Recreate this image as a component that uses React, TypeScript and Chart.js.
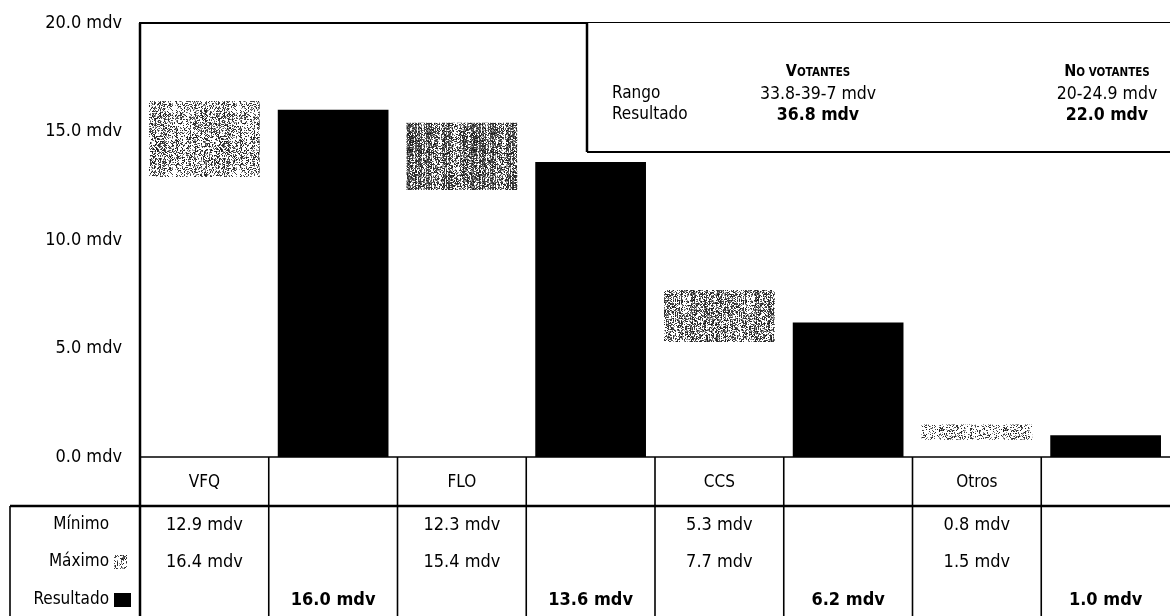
import { useEffect, useRef } from 'react';
import { Chart, registerables } from 'chart.js';

Chart.register(...registerables);

// Party ranges (minimum / maximum) and the final result, in mdv
const categories = ['VFQ', 'FLO', 'CCS', 'Otros'];
const minimo = [12.9, 12.3, 5.3, 0.8];
const maximo = [16.4, 15.4, 7.7, 1.5];
const resultado = [16.0, 13.6, 6.2, 1.0];

// Value axis
const yMin = 0;
const yMax = 20;
const yStep = 5;

// Row labels of the data table under the chart
const rowLabels = ['Mínimo', 'Máximo', 'Resultado'];

// Summary box (top right)
const summaryHeads = ['Votantes', 'No votantes'];
const summaryRowLabels = ['Rango', 'Resultado'];
const summaryRango = ['33.8-39-7 mdv', '20-24.9 mdv'];
const summaryResultado = ['36.8 mdv', '22.0 mdv'];

const W = 1170;
const H = 616;
const FONT = '"DejaVu Sans Condensed", "DejaVu Sans", sans-serif';
const fmt = (v: number) => v.toFixed(1) + ' mdv';

// Each party gets two columns: its range box, then its result bar
const columnLabels = categories.flatMap((c) => [c, c + ' resultado']);
const rangeData = columnLabels.map((_, i) =>
  i % 2 === 0 ? [minimo[i / 2], maximo[i / 2]] : null
);
const resultData = columnLabels.map((_, i) =>
  i % 2 === 1 ? resultado[(i - 1) / 2] : null
);

// Grain tone of each range box
const rangeTone = [0.42, 0.6, 0.5, 0.28];

function hash(a: number, b: number): number {
  let n = Math.imul(a, 374761393) + Math.imul(b, 668265263);
  n = Math.imul(n ^ (n >>> 13), 1274126177);
  n = n ^ (n >>> 16);
  return (n >>> 0) / 4294967295;
}

// Halftone-like grainy fill with vertical streaks
function grain(ctx: CanvasRenderingContext2D, density: number, seed: number) {
  const size = 64;
  const c = document.createElement('canvas');
  c.width = size;
  c.height = size;
  const g = c.getContext('2d')!;
  const img = g.createImageData(size, size);
  for (let x = 0; x < size; x++) {
    const streak = 0.5 + hash(x + seed * 131, 977);
    for (let y = 0; y < size; y++) {
      const k = (y * size + x) * 4;
      const r = hash(x + seed * 71, y + seed * 53);
      let v = 255;
      if (r < density * streak * 0.85) v = 20 + Math.floor(70 * hash(y, x + seed));
      else if (r < density * streak * 1.1) v = 150;
      img.data[k] = v;
      img.data[k + 1] = v;
      img.data[k + 2] = v;
      img.data[k + 3] = 255;
    }
  }
  g.putImageData(img, 0, 0);
  return ctx.createPattern(c, 'repeat')!;
}

function line(
  ctx: CanvasRenderingContext2D,
  x1: number,
  y1: number,
  x2: number,
  y2: number,
  w: number
) {
  ctx.lineWidth = w;
  ctx.beginPath();
  ctx.moveTo(x1, y1);
  ctx.lineTo(x2, y2);
  ctx.stroke();
}

function smallCaps(ctx: CanvasRenderingContext2D, text: string, cx: number, y: number) {
  const big = `bold 16px ${FONT}`;
  const small = `bold 11.5px ${FONT}`;
  const first = text[0].toUpperCase();
  const rest = text.slice(1).toUpperCase();
  ctx.font = big;
  const w1 = ctx.measureText(first).width;
  ctx.font = small;
  const w2 = ctx.measureText(rest).width;
  let x = cx - (w1 + w2) / 2;
  ctx.textAlign = 'left';
  ctx.textBaseline = 'alphabetic';
  ctx.font = big;
  ctx.fillText(first, x, y);
  x += w1;
  ctx.font = small;
  ctx.fillText(rest, x, y);
}

const tablePlugin = {
  id: 'dataTable',
  afterDraw(chart: any) {
    const { ctx, chartArea: a, scales } = chart;
    const xs = scales.x;
    const n = columnLabels.length;
    const colW = (a.right - a.left) / n;
    ctx.save();
    ctx.strokeStyle = '#000';
    ctx.fillStyle = '#000';

    // plot frame
    line(ctx, a.left, a.top, a.right, a.top, 2);
    line(ctx, a.left, a.bottom, a.right, a.bottom, 1.5);
    line(ctx, a.left, a.top, a.left, H, 2.5);

    // table grid
    for (let i = 1; i < n; i++) {
      const x0 = a.left + i * colW;
      line(ctx, x0, a.bottom, x0, H, 1.6);
    }
    const ruleY = a.bottom + 49;
    const boxLeft = 10;
    line(ctx, boxLeft, ruleY, a.right, ruleY, 2.5);
    line(ctx, boxLeft, ruleY, boxLeft, H, 1.6);

    // category names
    ctx.textAlign = 'center';
    ctx.textBaseline = 'middle';
    ctx.font = `17px ${FONT}`;
    categories.forEach((c, i) => {
      ctx.fillText(c, xs.getPixelForValue(i * 2), a.bottom + 26);
    });

    // rows
    const rowY = [a.bottom + 68, a.bottom + 105, a.bottom + 143];
    ctx.font = `17px ${FONT}`;
    ctx.textAlign = 'right';
    rowLabels.forEach((r, i) => ctx.fillText(r, a.left - 31, rowY[i]));
    // swatches
    ctx.fillStyle = grain(ctx, 0.35, 9);
    ctx.fillRect(a.left - 26, rowY[1] - 7, 13, 14);
    ctx.fillStyle = '#000';
    ctx.fillRect(a.left - 26, rowY[2] - 7, 17, 14);

    ctx.textAlign = 'center';
    ctx.font = `18px ${FONT}`;
    categories.forEach((_, i) => {
      const cx = xs.getPixelForValue(i * 2);
      ctx.fillText(fmt(minimo[i]), cx, rowY[0]);
      ctx.fillText(fmt(maximo[i]), cx, rowY[1]);
    });
    ctx.font = `bold 18px ${FONT}`;
    categories.forEach((_, i) => {
      ctx.fillText(fmt(resultado[i]), xs.getPixelForValue(i * 2 + 1), rowY[2]);
    });

    // summary box
    const bx = 587;
    const by = a.top;
    const bb = 152;
    ctx.fillStyle = '#fff';
    ctx.fillRect(bx, by, W - bx, bb - by);
    ctx.strokeStyle = '#000';
    line(ctx, bx, by, bx, bb, 2.5);
    line(ctx, bx, bb, W, bb, 2);
    ctx.fillStyle = '#000';
    const colX = [818, 1107];
    summaryHeads.forEach((h, i) => smallCaps(ctx, h, colX[i], 76));
    ctx.textBaseline = 'middle';
    ctx.textAlign = 'left';
    ctx.font = `17px ${FONT}`;
    ctx.fillText(summaryRowLabels[0], 612, 94);
    ctx.fillText(summaryRowLabels[1], 612, 115);
    ctx.textAlign = 'center';
    ctx.font = `17.5px ${FONT}`;
    summaryRango.forEach((t, i) => ctx.fillText(t, colX[i], 94));
    ctx.font = `bold 17.5px ${FONT}`;
    summaryResultado.forEach((t, i) => ctx.fillText(t, colX[i], 115));

    ctx.restore();
  },
};

export default function App() {
  const ref = useRef<HTMLCanvasElement>(null);

  useEffect(() => {
    const canvas = ref.current!;
    const ctx = canvas.getContext('2d')!;
    const rangeFill = rangeTone.flatMap((t, i) => [grain(ctx, t, i + 1), '#000']);
    const chart = new Chart(canvas, {
      type: 'bar',
      data: {
        labels: columnLabels,
        datasets: [
          {
            label: 'Mínimo – Máximo',
            data: rangeData as any,
            backgroundColor: rangeFill as any,
            borderWidth: 0,
            grouped: false,
            barPercentage: 0.86,
            categoryPercentage: 1,
          },
          {
            label: 'Resultado',
            data: resultData as any,
            backgroundColor: '#000',
            borderWidth: 0,
            grouped: false,
            barPercentage: 0.86,
            categoryPercentage: 1,
          },
        ],
      },
      options: {
        responsive: false,
        animation: false,
        layout: { padding: { top: 23, bottom: 159, left: 0, right: 0 } },
        plugins: {
          legend: { display: false },
          tooltip: { enabled: false },
        },
        scales: {
          x: { display: false },
          y: {
            min: yMin,
            max: yMax,
            ticks: {
              stepSize: yStep,
              padding: 18,
              color: '#000',
              font: { family: FONT, size: 18 },
              callback: (v: any) => fmt(Number(v)),
            },
            grid: { display: false, drawTicks: false },
            border: { display: true, color: '#000', width: 2 },
            afterFit: (s: any) => {
              s.width = 140;
              s.paddingTop = 0;
              s.paddingBottom = 0;
            },
          },
        },
      },
      plugins: [tablePlugin],
    });
    return () => chart.destroy();
  }, []);

  return (
    <div style={{ position: 'absolute', left: 0, top: 0, width: W, height: H, background: '#fff' }}>
      <canvas ref={ref} width={W} height={H} style={{ display: 'block' }} />
    </div>
  );
}
